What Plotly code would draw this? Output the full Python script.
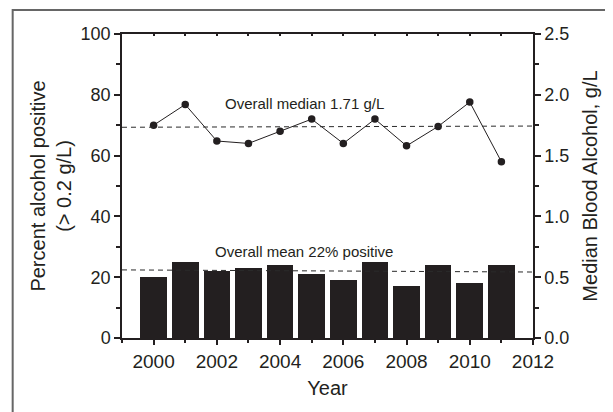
import plotly.graph_objects as go

years = [2000, 2001, 2002, 2003, 2004, 2005, 2006, 2007, 2008, 2009, 2010, 2011]
pct_positive = [20, 25, 22, 23, 24, 21, 19, 25, 17, 24, 18, 24]
median_bac = [1.75, 1.92, 1.62, 1.60, 1.70, 1.80, 1.60, 1.80, 1.58, 1.74, 1.94, 1.45]

x_range = [1999, 2012]
mean_line = [22.4, 21.7]      # percent, left->right
median_line = [1.733, 1.743]  # g/L, left->right
median_label = "Overall median 1.71 g/L"
mean_label = "Overall mean 22% positive"

INK = "#231f20"
FONT = "Liberation Sans, Arial, sans-serif"

fig = go.Figure()
fig.add_trace(go.Bar(x=years, y=pct_positive, width=0.84, marker=dict(color=INK, line=dict(width=0)),
                     yaxis="y", showlegend=False))
fig.add_trace(go.Scatter(x=years, y=median_bac, mode="lines+markers", yaxis="y2",
                         line=dict(color=INK, width=1), marker=dict(color=INK, size=7.5),
                         showlegend=False))
# carrier for top axis
fig.add_trace(go.Scatter(x=[None], y=[None], xaxis="x2", yaxis="y", mode="markers",
                         showlegend=False, hoverinfo="skip"))

fig.add_shape(type="line", xref="x", yref="y", x0=x_range[0], x1=x_range[1],
              y0=mean_line[0], y1=mean_line[1], line=dict(color="#2a2a2a", width=1, dash="5px,4px"))
fig.add_shape(type="line", xref="x", yref="y2", x0=x_range[0], x1=x_range[1],
              y0=median_line[0], y1=median_line[1], line=dict(color="#2a2a2a", width=1, dash="5px,4px"))

# outer frame
fig.add_shape(type="rect", xref="paper", yref="paper", x0=-0.266, x1=1.4, y0=-0.5, y1=1.079,
              line=dict(color="#666666", width=2), layer="below")

fig.add_annotation(x=2004.77, y=77.3, xref="x", yref="y", text=median_label, showarrow=False,
                   font=dict(size=15, color=INK, family=FONT))
fig.add_annotation(x=2004.77, y=28.4, xref="x", yref="y", text=mean_label, showarrow=False,
                   font=dict(size=15, color=INK, family=FONT))

axis_common = dict(showgrid=False, zeroline=False, linecolor=INK, linewidth=1.5, automargin=False,
                   tickcolor=INK, tickwidth=1.5,
                   title_font=dict(size=20, color=INK, family=FONT))

fig.update_layout(
    width=605, height=404,
    margin=dict(l=114, r=80, t=26, b=74),
    paper_bgcolor="white", plot_bgcolor="white",
    font=dict(family=FONT, color=INK),
    bargap=0,
    xaxis=dict(range=x_range, dtick=2, ticks="outside", ticklen=5, showline=True,
               tickfont=dict(size=19, color=INK, family=FONT),
               title=dict(text="Year", standoff=10),
               minor=dict(dtick=1, ticks="outside", ticklen=3, tickcolor=INK, tickwidth=1.5),
               **axis_common),
    xaxis2=dict(range=x_range, overlaying="x", side="top", anchor="y", dtick=1, ticks="inside",
                ticklen=2, showticklabels=False, showline=True, showgrid=False, zeroline=False,
                automargin=False, linecolor=INK, linewidth=1.5, tickcolor=INK, tickwidth=1.5),
    yaxis=dict(range=[0, 100], dtick=20, ticks="outside", ticklen=6, showline=True,
               tickfont=dict(size=18, color=INK, family=FONT),
               title=dict(text="Percent alcohol positive<br>(> 0.2 g/L)", standoff=4),
               minor=dict(dtick=10, ticks="outside", ticklen=4, tickcolor=INK, tickwidth=1.5),
               **axis_common),
    yaxis2=dict(range=[0, 2.5], dtick=0.5, tickformat=".1f", overlaying="y", side="right",
                anchor="x", ticks="outside", ticklen=6, showline=True,
                tickfont=dict(size=18, color=INK, family=FONT),
                title=dict(text="Median Blood Alcohol, g/L", standoff=15),
                minor=dict(dtick=0.25, ticks="outside", ticklen=4, tickcolor=INK, tickwidth=1.5),
                **axis_common),
)

fig.write_html("out.html")
